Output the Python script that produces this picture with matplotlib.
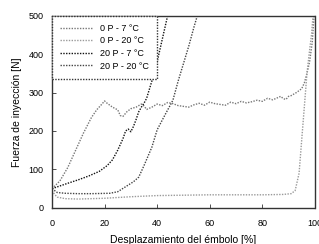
import matplotlib
matplotlib.use("Agg")
import matplotlib.pyplot as plt

plt.rcParams["font.family"] = ["Liberation Sans", "DejaVu Sans"]

# 0 P - 7 °C : pico a ~20 % y meseta ~270-290 N
x_0p7 = [0, 3, 6, 9, 12, 15, 17, 19, 20, 21, 23, 25, 26, 27, 28.5, 30, 32, 34, 35, 36,
         38, 40, 42, 44, 46, 48, 50, 52, 54, 56, 58, 60, 62, 64, 66, 68, 70, 72, 74,
         76, 78, 80, 82, 84, 86, 87, 88, 89, 90, 91, 93, 95, 96, 97, 98, 99, 99.7]
y_0p7 = [50, 70, 105, 150, 195, 235, 255, 270, 278, 272, 262, 255, 240, 238, 250, 258,
         262, 270, 265, 256, 262, 270, 266, 274, 271, 266, 264, 262, 268, 272, 267, 275,
         271, 269, 267, 275, 271, 277, 273, 276, 280, 277, 285, 281, 287, 290, 284, 282,
         290, 292, 300, 310, 325, 350, 380, 430, 500]

# 0 P - 20 °C : plano ~25-35 N hasta ~92 %
x_0p20 = [0, 1, 2, 5, 10, 15, 20, 25, 30, 40, 50, 60, 70, 80, 88, 91, 92.5, 94, 95,
          96, 97, 98, 98.8, 99.3]
y_0p20 = [45, 35, 28, 24, 23, 24, 25, 27, 29, 32, 33, 34, 34, 34, 35, 37, 45, 90, 177,
          263, 350, 410, 455, 500]

# 20 P - 7 °C : sube pronto, 500 N a ~44 %
x_20p7 = [0, 3, 6, 10, 14, 18, 21, 23, 25, 27, 28, 29, 30, 31, 32, 33, 34, 35, 36, 38,
          40, 42, 44]
y_20p7 = [50, 57, 64, 73, 83, 95, 110, 125, 150, 180, 200, 205, 198, 212, 230, 250,
          262, 272, 285, 330, 380, 440, 500]

# 20 P - 20 °C : plano ~38 N, sube desde ~25 %, 500 N a ~55 %
x_20p20 = [0, 2, 5, 10, 15, 22, 25, 28, 31, 33, 35, 38, 40, 43, 46, 48, 50, 52, 54, 55.3]
y_20p20 = [50, 40, 38, 37, 37, 38, 42, 55, 68, 80, 110, 158, 203, 242, 280, 330, 375,
           420, 470, 500]

series = [
    ("0 P - 7 °C", x_0p7, y_0p7, "#777777"),
    ("0 P - 20 °C", x_0p20, y_0p20, "#9a9a9a"),
    ("20 P - 7 °C", x_20p7, y_20p7, "#111111"),
    ("20 P - 20 °C", x_20p20, y_20p20, "#444444"),
]

x_ticks = [0, 20, 40, 60, 80, 100]
y_ticks = [0, 100, 200, 300, 400, 500]

fig = plt.figure(figsize=(3.19, 2.44), dpi=100)
ax = fig.add_axes([0.163, 0.148, 0.824, 0.788])

for label, xs, ys, color in series:
    ax.plot(xs, ys, linestyle=(0, (1, 1)), linewidth=1.0, color=color, label=label)

ax.set_xlim(0, 100)
ax.set_ylim(0, 500)
ax.set_xticks(x_ticks)
ax.set_yticks(y_ticks)
ax.tick_params(direction="in", length=3, width=0.6, labelsize=6.5, color="#333333")
ax.tick_params(axis="x", pad=8)
ax.tick_params(axis="y", pad=6)

for spine in ax.spines.values():
    spine.set_linestyle((0, (1, 1)))
    spine.set_linewidth(1.0)
    spine.set_color("#333333")

ax.set_xlabel("Desplazamiento del émbolo [%]", fontsize=7.5, labelpad=5)
ax.set_ylabel("Fuerza de inyección [N]", fontsize=7.5, labelpad=5)

leg = ax.legend(loc="upper left", bbox_to_anchor=(0, 1), borderaxespad=0, fontsize=6.5,
                handlelength=3.6, handletextpad=0.8, labelspacing=0.4, borderpad=0.9,
                fancybox=False, framealpha=1)
frame = leg.get_frame()
frame.set_linestyle((0, (1, 1)))
frame.set_edgecolor("#333333")
frame.set_linewidth(1.0)

fig.savefig("out.png", dpi=100)
